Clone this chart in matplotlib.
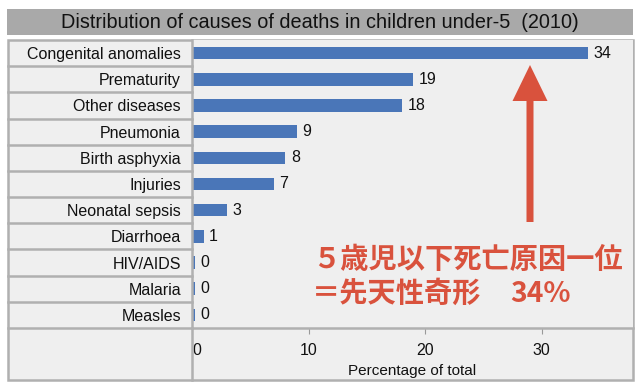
import matplotlib
matplotlib.use('Agg')
import matplotlib.pyplot as plt
from matplotlib.patches import Rectangle, FancyArrow
from matplotlib.lines import Line2D

# ---- data ----
categories = ['Congenital anomalies', 'Prematurity', 'Other diseases', 'Pneumonia',
              'Birth asphyxia', 'Injuries', 'Neonatal sepsis', 'Diarrhoea',
              'HIV/AIDS', 'Malaria', 'Measles']
values = [34, 19, 18, 9, 8, 7, 3, 1, 0.25, 0.25, 0.25]
value_labels = ['34', '19', '18', '9', '8', '7', '3', '1', '0', '0', '0']
xticks = [0, 10, 20, 30]
xtick_labels = ['0', '10', '20', '30']
title = 'Distribution of causes of deaths in children under-5  (2010)'
xlabel = 'Percentage of total'
note_line1 = '５歳児以下死亡原因一位'
note_line2a = '＝先天性奇形'
note_line2b = '34%'

plt.rcParams['font.family'] = ['Liberation Sans', 'DejaVu Sans']

W, H = 640, 390
fig = plt.figure(figsize=(6.4, 3.9), dpi=100)
fig.patch.set_facecolor('white')


def fx(x):
    return x / W


def fy(y):
    return 1 - y / H


frame_col = '#b0b0b0'
bg = '#efefef'
bar_col = '#4a76b8'
red = '#d9523d'

# title bar
fig.add_artist(Rectangle((fx(7), fy(35)), fx(633) - fx(7), fy(9) - fy(35),
                         transform=fig.transFigure, facecolor='#a9a9a9',
                         edgecolor='none', zorder=0))
fig.text(fx(320), fy(22.5), title, ha='center', va='center', fontsize=14.3,
         color='#111111')

# outer frame
fig.add_artist(Rectangle((fx(8), fy(380)), fx(633) - fx(8), fy(40) - fy(380),
                         transform=fig.transFigure, facecolor=bg,
                         edgecolor=frame_col, linewidth=1.8, zorder=0))

# axes
top, bottom, left, right = 40, 328, 192, 633
ax = fig.add_axes([fx(left), fy(bottom), fx(right) - fx(left), fy(top) - fy(bottom)])
ax.set_facecolor(bg)
n = len(categories)
ypos = list(range(n))
bars = ax.barh(ypos, values, height=0.48, color=bar_col, zorder=3)
ax.bar_label(bars, labels=value_labels, padding=4, fontsize=11.5, color='#111111')
ax.set_ylim(n - 0.5, -0.5)
ax.set_xlim(0, (right - left) / 11.65)
ax.set_yticks(ypos)
ax.set_yticklabels(categories, fontsize=11.5, color='#111111')
ax.tick_params(axis='y', length=0, pad=8)
ax.set_xticks(xticks)
ax.set_xticklabels(xtick_labels, fontsize=11.5, color='#111111')
ax.tick_params(axis='x', direction='out', length=4, width=0.8, color='#999999', pad=7)
ax.get_xticklabels()[0].set_ha('left')
ax.set_xlabel(xlabel, fontsize=11, color='#111111', labelpad=4)
for s in ['top', 'right', 'left']:
    ax.spines[s].set_visible(False)
ax.spines['bottom'].set_color(frame_col)
ax.spines['bottom'].set_linewidth(1.8)

# label column separators
row_h = (bottom - top) / n
for i in range(1, n):
    y = top + i * row_h
    fig.add_artist(Line2D([fx(8), fx(left)], [fy(y), fy(y)], transform=fig.transFigure,
                          color=frame_col, linewidth=1.8, zorder=1))
fig.add_artist(Line2D([fx(8), fx(left)], [fy(bottom), fy(bottom)], transform=fig.transFigure,
                      color=frame_col, linewidth=1.8, zorder=1))
fig.add_artist(Line2D([fx(left), fx(left)], [fy(40), fy(380)], transform=fig.transFigure,
                      color=frame_col, linewidth=1.8, zorder=1))

# red arrow
fig.add_artist(FancyArrow(530 / 100, (H - 222) / 100, 0, (222 - 65) / 100,
                          width=0.07, head_width=0.35, head_length=0.36,
                          length_includes_head=True, transform=fig.dpi_scale_trans,
                          facecolor=red, edgecolor='none', zorder=6))

cjk = ['Noto Sans CJK JP', 'DejaVu Sans']
fig.text(fx(312), fy(260), note_line1, ha='left', va='center', fontsize=20.3,
         fontweight='bold', color=red, family=cjk)
fig.text(fx(312), fy(294), note_line2a, ha='left', va='center', fontsize=20.3,
         fontweight='bold', color=red, family=cjk)
fig.text(fx(510), fy(294), note_line2b, ha='left', va='center', fontsize=20.3,
         fontweight='bold', color=red, family=cjk)

fig.savefig('out.png', dpi=100, facecolor='white')
